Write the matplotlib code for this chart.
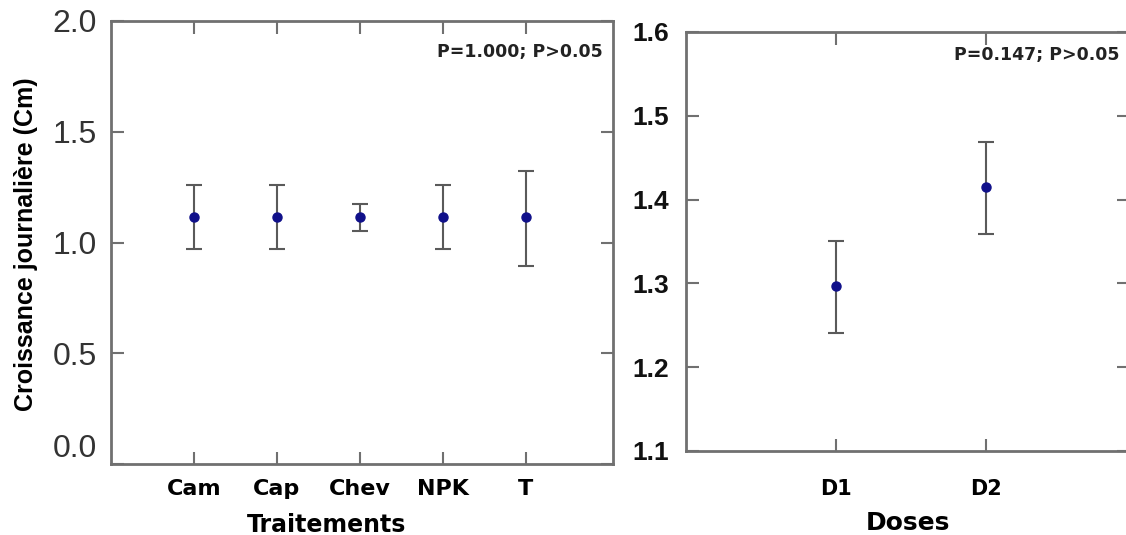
import matplotlib
matplotlib.use("Agg")
import matplotlib.pyplot as plt
import numpy as np

# ---- data ----
treatments = ["Cam", "Cap", "Chev", "NPK", "T"]
treat_mean = [1.115, 1.115, 1.115, 1.115, 1.115]
treat_low = [0.970, 0.970, 1.052, 0.970, 0.895]
treat_high = [1.260, 1.260, 1.176, 1.260, 1.325]
treat_yticks = [0.0, 0.5, 1.0, 1.5, 2.0]
treat_ptext = "P=1.000; P>0.05"

doses = ["D1", "D2"]
dose_mean = [1.297, 1.415]
dose_low = [1.241, 1.359]
dose_high = [1.351, 1.469]
dose_yticks = [1.1, 1.2, 1.3, 1.4, 1.5, 1.6]
dose_ptext = "P=0.147; P>0.05"

W, H = 1126, 535
fig = plt.figure(figsize=(W / 100, H / 100), dpi=100)

spine_col = "#707070"
err_col = "#5a5a5a"
mk_col = "#10108a"


def ax_px(x0, y0, x1, y1):
    return fig.add_axes([x0 / W, (H - y1) / H, (x1 - x0) / W, (y1 - y0) / H])


def style(ax):
    for s in ax.spines.values():
        s.set_color(spine_col)
        s.set_linewidth(2)
    ax.tick_params(axis="both", which="both", direction="in", length=9,
                   width=1.5, color=spine_col, top=True, right=True)


# ---- left panel ----
ax1 = ax_px(111, 21, 613, 464)
x1 = np.arange(1, len(treatments) + 1)
m1 = np.array(treat_mean)
err1 = [m1 - np.array(treat_low), np.array(treat_high) - m1]
ax1.errorbar(x1, m1, yerr=err1, fmt="o", color=mk_col, ms=6.5,
             ecolor=err_col, elinewidth=1.5, capsize=5.5, capthick=1.5)
ax1.set_xlim(0, 6.05)
ax1.set_ylim(0, 2.0)
ax1.set_xticks(x1)
ax1.set_xticklabels(treatments, fontfamily="DejaVu Sans", fontweight="bold",
                    fontsize=16)
ax1.set_yticks(treat_yticks)
ax1.set_yticklabels([f"{v:.1f}" for v in treat_yticks],
                    fontfamily="Liberation Sans", fontsize=23, color="#333333")
ax1.get_yticklabels()[0].set_verticalalignment("bottom")
style(ax1)
ax1.tick_params(axis="x", pad=11)
ax1.tick_params(axis="y", pad=10)
ax1.set_xlabel("Traitements", fontfamily="DejaVu Sans", fontweight="bold",
               fontsize=17)
ax1.xaxis.set_label_coords((327 - 111) / 502, -(525 - 464) / 443)
ax1.xaxis.label.set_verticalalignment("center")
fig.text(26 / W, 1 - 244 / H, "Croissance journalière (Cm)",
         rotation=90, ha="center", va="center",
         fontfamily="Liberation Sans", fontweight="bold", fontsize=18)
ax1.text(603 / W, 1 - 52 / H, treat_ptext, transform=fig.transFigure,
         ha="right", va="center", fontfamily="DejaVu Sans",
         fontweight="bold", fontsize=12.5, color="#222222")

# ---- right panel ----
ax2 = ax_px(686, 32, 1129, 451)
x2 = np.arange(1, len(doses) + 1)
m2 = np.array(dose_mean)
err2 = [m2 - np.array(dose_low), np.array(dose_high) - m2]
ax2.errorbar(x2, m2, yerr=err2, fmt="o", color=mk_col, ms=6.5,
             ecolor=err_col, elinewidth=1.5, capsize=5.5, capthick=1.5)
ax2.set_xlim(0, 2.95)
ax2.set_ylim(1.1, 1.6)
ax2.set_xticks(x2)
ax2.set_xticklabels(doses, fontfamily="DejaVu Sans", fontweight="bold",
                    fontsize=15)
ax2.set_yticks(dose_yticks)
ax2.set_yticklabels([f"{v:.1f}" for v in dose_yticks],
                    fontfamily="Liberation Sans", fontweight="bold",
                    fontsize=19, color="#111111")
style(ax2)
ax2.tick_params(axis="x", pad=20)
ax2.tick_params(axis="y", pad=12)
ax2.set_xlabel("Doses", fontfamily="DejaVu Sans", fontweight="bold",
               fontsize=18, labelpad=9)
ax2.text(1120 / W, 1 - 55 / H, dose_ptext, transform=fig.transFigure,
         ha="right", va="center", fontfamily="DejaVu Sans",
         fontweight="bold", fontsize=12.5, color="#222222")

fig.savefig("out.png", dpi=100)
